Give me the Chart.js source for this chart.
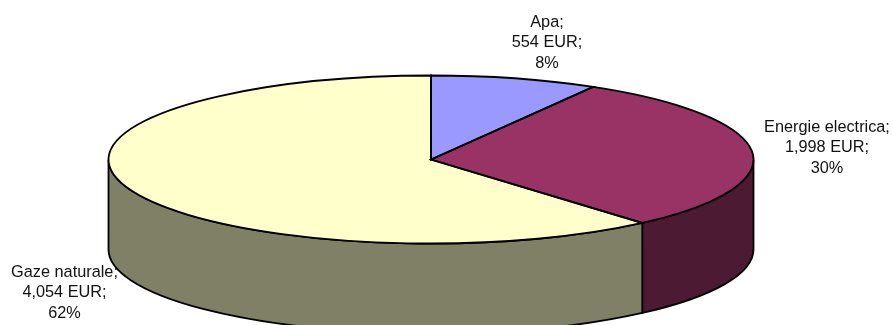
<!DOCTYPE html>
<html>
<head>
<meta charset="utf-8">
<title>Costuri utilitati</title>
<script src="https://cdn.jsdelivr.net/npm/chart.js@4/dist/chart.umd.min.js"></script>
<style>
  html, body { margin: 0; padding: 0; background: #fff; }
  canvas { display: block; }
</style>
</head>
<body>
<canvas id="pie" width="893" height="325"></canvas>
<script>
// values
const categories = ["Apa", "Energie electrica", "Gaze naturale"];
const costs = [554, 1998, 4054];
const percents = [8, 30, 62];
const topColors = ["#9999FF", "#993366", "#FFFFCC"];
const wallColors = ["#4D4D80", "#4D1A33", "#808066"];

// the tilted look: the library's round pie gets squashed to this ellipse
const RX = 322.5, RY = 84, DEPTH = 90;

// where each label block sits (centre x, first baseline y)
const labelAnchors = [[547, 27], [827, 132], [64.5, 277]];

// side walls, only the front half of the ellipse can be seen
function drawWalls(ctx, arcs) {
  arcs.forEach((arc, i) => {
    const a0 = Math.max(arc.startAngle, 0);
    const a1 = Math.min(arc.endAngle, Math.PI);
    if (a1 <= a0) return;
    ctx.beginPath();
    ctx.ellipse(arc.x, arc.y, RX, RY, 0, a0, a1);
    ctx.ellipse(arc.x, arc.y + DEPTH, RX, RY, 0, a1, a0, true);
    ctx.closePath();
    ctx.fillStyle = wallColors[i];
    ctx.fill();
    ctx.lineWidth = 1.8;
    ctx.strokeStyle = "#000";
    ctx.stroke();
  });
}

const tiltPlugin = {
  id: "tilt",
  beforeDatasetsDraw(chart) {
    const ctx = chart.ctx;
    const arcs = chart.getDatasetMeta(0).data;
    drawWalls(ctx, arcs);
    const r = arcs[0].outerRadius;
    ctx.save();
    ctx.translate(arcs[0].x, arcs[0].y);
    ctx.scale(RX / r, RY / r);
    ctx.translate(-arcs[0].x, -arcs[0].y);
  },
  afterDatasetsDraw(chart) {
    const ctx = chart.ctx;
    ctx.restore();
    // outlines done here so the line width is not squashed too
    chart.getDatasetMeta(0).data.forEach(arc => {
      ctx.beginPath();
      ctx.moveTo(arc.x, arc.y);
      ctx.ellipse(arc.x, arc.y, RX, RY, 0, arc.startAngle, arc.endAngle);
      ctx.closePath();
      ctx.lineWidth = 1.8;
      ctx.strokeStyle = "#000";
      ctx.stroke();
    });
  },
  afterDraw(chart) {
    const ctx = chart.ctx;
    ctx.save();
    ctx.font = "16.3px 'Liberation Sans', Arial, sans-serif";
    ctx.fillStyle = "#111";
    ctx.textAlign = "center";
    ctx.textBaseline = "alphabetic";
    categories.forEach((name, i) => {
      const [x, y] = labelAnchors[i];
      ctx.fillText(name + ";", x, y);
      ctx.fillText(costs[i].toLocaleString("en-US") + " EUR;", x, y + 20);
      ctx.fillText(percents[i] + "%", x, y + 40.5);
    });
    ctx.restore();
  }
};

new Chart(document.getElementById("pie").getContext("2d"), {
  type: "pie",
  data: {
    labels: categories,
    datasets: [{
      data: costs,
      backgroundColor: topColors,
      borderWidth: 0
    }]
  },
  options: {
    responsive: false,
    animation: false,
    layout: { padding: { left: 0, right: 31, top: 0, bottom: 6 } },
    plugins: {
      legend: { display: false },
      tooltip: { enabled: false }
    }
  },
  plugins: [tiltPlugin]
});
</script>
</body>
</html>
